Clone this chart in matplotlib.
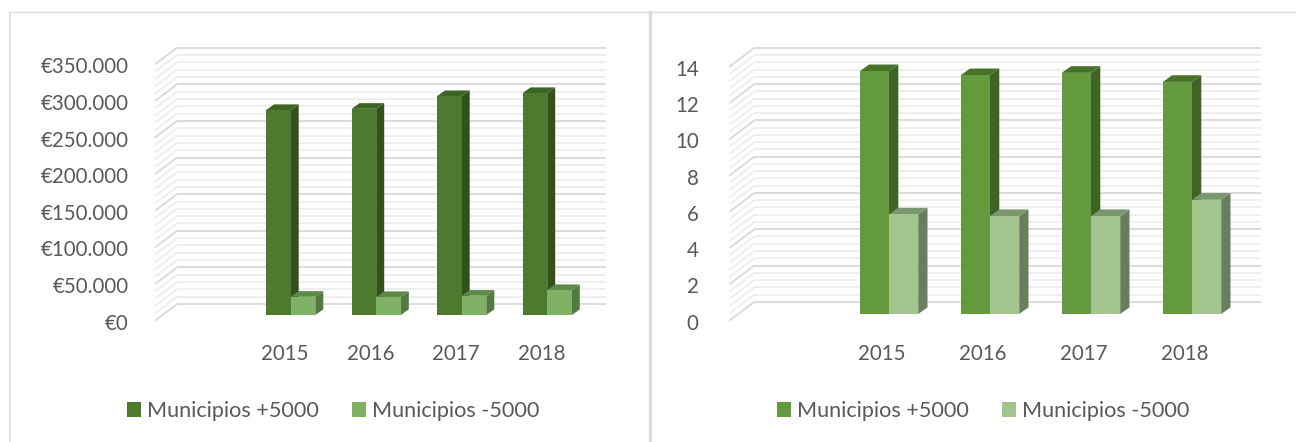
import matplotlib
matplotlib.use("Agg")
import matplotlib.pyplot as plt
from matplotlib.lines import Line2D
from matplotlib.patches import Polygon

W, H = 1296, 442

years = ["2015", "2016", "2017", "2018"]
names = ["Municipios +5000", "Municipios -5000"]

spend_big = [279800, 281500, 298800, 303000]
spend_small = [24900, 24500, 26300, 34000]
spend_ticks = [0, 50000, 100000, 150000, 200000, 250000, 300000, 350000]
spend_labels = ["€0", "€50.000", "€100.000", "€150.000", "€200.000", "€250.000", "€300.000", "€350.000"]

count_big = [13.39, 13.17, 13.3, 12.8]
count_small = [5.49, 5.4, 5.4, 6.3]
count_ticks = [0, 2, 4, 6, 8, 10, 12, 14]
count_labels = ["0", "2", "4", "6", "8", "10", "12", "14"]


def panel(ticks, labels, big, small, colors, g):
    # g holds the pixel geometry of the panel
    ax = fig.add_axes([g["left"] / W, 1 - g["front0"] / H,
                       (g["right"] - g["left"]) / W, (g["front0"] - g["top"]) / H])
    k = (ticks[1] - ticks[0]) / g["px_step"]
    ax.set_ylim(-(g["front0"] - g["base"]) * k, (g["base"] - g["top"]) * k)
    ax.set_xlim(1 + (g["left"] - g["c1"]) / g["spacing"], 1 + (g["right"] - g["c1"]) / g["spacing"])
    ax.patch.set_visible(False)
    for s in ax.spines.values():
        s.set_visible(False)

    xu = 1 / g["spacing"]
    wall_x0 = ax.get_xlim()[0]
    wall_x1 = ax.get_xlim()[1]
    wall_x = wall_x0 + g["wall_dx"] * xu
    front_off = (g["front0"] - g["base"]) * k
    back_off = g["wall_dy"] * k - front_off

    # walls: 4 minor lines between each pair of major lines
    step = (ticks[1] - ticks[0]) / 5
    for i in range(5 * (len(ticks) - 1) + 1):
        v = i * step
        major = i % 5 == 0
        c = "#d9d9d9" if major else "#efefef"
        lw = 1.3 if major else 1.4
        ax.plot([wall_x0, wall_x], [v - front_off, v + back_off], color=c, lw=lw,
                clip_on=False, zorder=2 if major else 1, solid_capstyle="butt")
        ax.plot([wall_x, wall_x1], [v + back_off, v + back_off], color=c, lw=lw,
                clip_on=False, zorder=2 if major else 1, solid_capstyle="butt")

    # bars, with depth faces
    xs = range(1, len(big) + 1)
    bw = g["bar"] * xu
    dx = g["depth_x"] * xu
    dy = g["depth_y"] * k
    handles = []
    for n, (vals, col) in enumerate(zip([big, small], colors)):
        lefts = [x - bw + n * bw for x in xs]
        for x0, v in zip(lefts, vals):
            ax.add_patch(Polygon([(x0 + bw, 0), (x0 + bw + dx, dy), (x0 + bw + dx, v + dy), (x0 + bw, v)],
                                 closed=True, fc=col[1], ec="none", zorder=3 + n))
            ax.add_patch(Polygon([(x0, v), (x0 + dx, v + dy), (x0 + bw + dx, v + dy), (x0 + bw, v)],
                                 closed=True, fc=col[2], ec="none", zorder=3 + n))
        b = ax.bar(lefts, vals, width=bw, align="edge", color=col[0], zorder=3 + n, label=names[n])
        handles.append(b)

    # labels sit 1px under the front wall line
    ax.set_yticks([t - front_off - k for t in ticks], labels)
    ax.set_xticks([x - g["label_off"] * xu for x in xs], years)
    ax.tick_params(length=0, colors="#595959", labelsize=14.8)
    ax.tick_params(axis="y", pad=g["ypad"])
    ax.tick_params(axis="x", pad=16)

    ax.legend(handles=handles, ncol=2, frameon=False, fontsize=15.6,
              loc="center left", bbox_to_anchor=(g["leg_x"] / W, 1 - 411 / H),
              bbox_transform=fig.transFigure, borderaxespad=0, borderpad=0,
              handlelength=0.64, handleheight=0.64, handletextpad=0.27,
              columnspacing=1.56, labelcolor="#595959")
    return ax


plt.rcParams["font.family"] = ["Lato", "DejaVu Sans"]

fig = plt.figure(figsize=(W / 100, H / 100), dpi=100, facecolor="white")

dark = [("#4d7a2c", "#32511d", "#3d6424"), ("#7fb265", "#537a40", "#5d8a48")]
mid = [("#629a3d", "#3f6426", "#477329"), ("#a2c58d", "#677f5f", "#7a9770")]

panel(spend_ticks, spend_labels, spend_big, spend_small, dark,
      dict(left=155, right=606, top=47.7, front0=321.7, base=316, px_step=36.76,
           c1=290.7, spacing=85.5, bar=24.6, depth_x=8, depth_y=5.7,
           wall_dx=22, wall_dy=16.7, label_off=5.7, ypad=19, leg_x=127))
panel(count_ticks, count_labels, count_big, count_small, mid,
      dict(left=729.3, right=1260.7, top=47.7, front0=321.7, base=315, px_step=36.4,
           c1=889, spacing=101, bar=29.2, depth_x=9.3, depth_y=6.7,
           wall_dx=25, wall_dy=19, label_off=7.7, ypad=22, leg_x=777))

# panel frames
frame = "#dcdcdc"
fig.add_artist(Line2D([9 / W, 1], [1 - 11.5 / H] * 2, color=frame, lw=1))
fig.add_artist(Line2D([9.5 / W] * 2, [0, 1 - 11.5 / H], color=frame, lw=1.2))
fig.add_artist(Line2D([649.5 / W] * 2, [0, 1 - 11.5 / H], color=frame, lw=2.4))

fig.savefig("out.png", dpi=100)
